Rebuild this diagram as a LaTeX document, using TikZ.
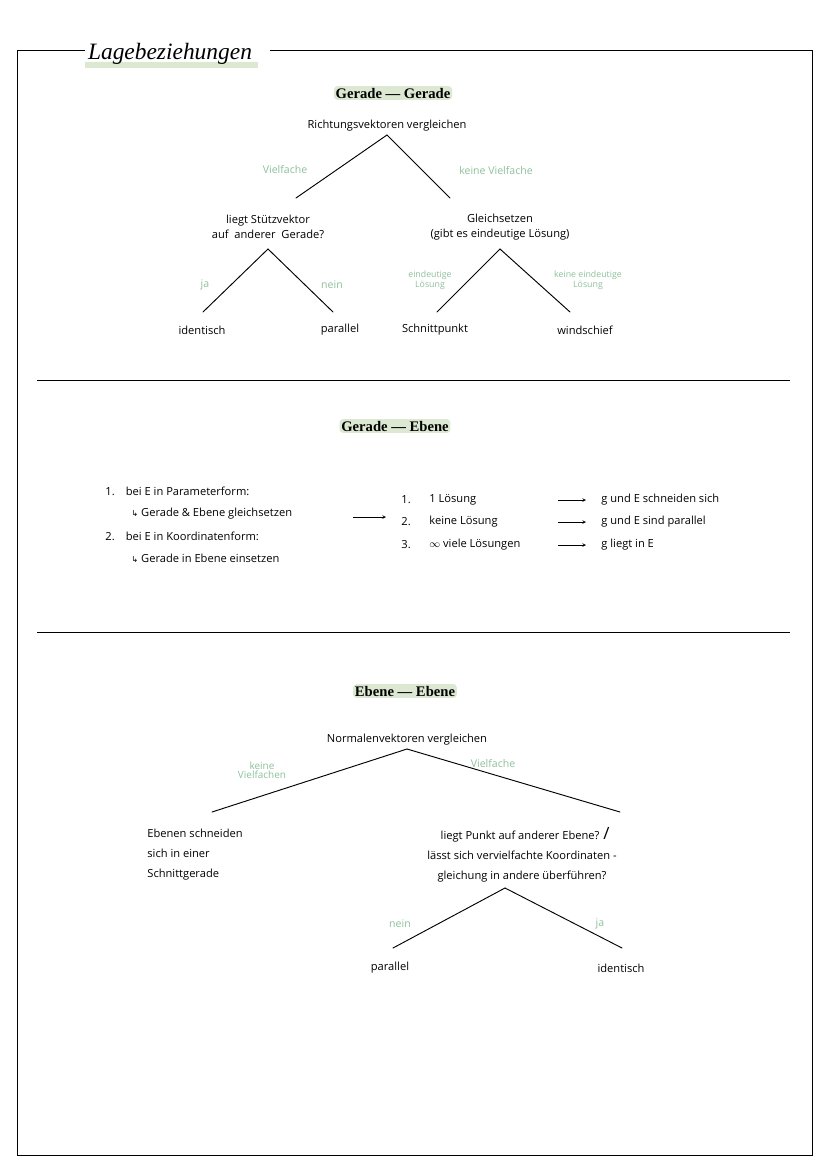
\documentclass[tikz,border=0pt]{standalone}
\usepackage{fontspec}
\setmainfont{Liberation Serif}
\setsansfont{Open Sans}
\newfontfamily\symfont{DejaVu Sans}
\usetikzlibrary{positioning}
\definecolor{leaf}{HTML}{8DBF9A}
\definecolor{marker}{HTML}{DCE8D2}
\newcommand{\hook}{{\symfont\fontsize{7}{7}\selectfont ↳}}
\tikzset{
  txt/.style={font=\sffamily\fontsize{9.5}{11}\selectfont, inner sep=1pt, align=center},
  lbl/.style={font=\sffamily\fontsize{9}{9}\selectfont, text=leaf, inner sep=1pt, align=center},
  small lbl/.style={lbl, font=\sffamily\fontsize{7.5}{7}\selectfont},
  heading/.style={font=\bfseries\fontsize{12.5}{13}\selectfont, fill=marker, rounded corners=3pt, inner sep=1.5pt},
  branch/.style={thick, line cap=round},
  arrow/.style={->, >=stealth}
}
\begin{document}
\begin{tikzpicture}[x=0.03cm, y=-0.03cm]
\useasboundingbox (0,0) rectangle (828,1171);
% frame
\draw[thick] (85,50) -- (17,50) -- (17,1155) -- (812,1155) -- (812,50) -- (270,50);
\fill[marker] (85,62) rectangle (258,68);
\node (title) at (170,54) {\itshape\fontsize{20}{20}\selectfont Lagebeziehungen};
% Gerade - Gerade
\node[heading] (gg) at (393,93) {Gerade --- Gerade};
\node[txt] (rv) at (387,126) {Richtungsvektoren vergleichen};
\coordinate (rvb) at (387,135);
\draw[branch] (rvb) -- (296,198) coordinate (svt);
\draw[branch] (rvb) -- (450,198) coordinate (gst);
\node[lbl] (vf) at (285,170) {Vielfache};
\node[lbl] (kvf) at (496,171) {keine Vielfache};
\node[txt] (stuetz) at (268,227) {liegt Stützvektor\\[2pt]auf \ anderer \ Gerade?};
\node[txt] (gleich) at (500,227) {Gleichsetzen\\[2pt](gibt es eindeutige Lösung)};
\draw[branch] (268,249) coordinate (stb) -- (203,312) coordinate (idt);
\draw[branch] (stb) -- (333,312) coordinate (part);
\draw[branch] (500,249) coordinate (glb) -- (437,312) coordinate (spt);
\draw[branch] (glb) -- (570,312) coordinate (wst);
\node[lbl] (ja1) at (205,285) {ja};
\node[lbl] (nein1) at (332,285) {nein};
\node[small lbl] (edl) at (430,280) {eindeutige\\Lösung};
\node[small lbl] (kedl) at (588,280) {keine eindeutige\\Lösung};
\node[txt] (ident1) at (202,330) {identisch};
\node[txt] (par1) at (340,330) {parallel};
\node[txt] (schnitt) at (435,330) {Schnittpunkt};
\node[txt] (wind) at (585,330) {windschief};
\draw[thick] (37,380) -- (790,380);
% Gerade - Ebene
\node[heading] (ge) at (395,426) {Gerade --- Ebene};
\node[txt, anchor=west] (n1) at (104,491) {1.\quad bei E in Parameterform:};
\node[txt, anchor=west] (n1a) at (130,514) {\hook\ Gerade \& Ebene gleichsetzen};
\node[txt, anchor=west] (n2) at (104,536) {2.\quad bei E in Koordinatenform:};
\node[txt, anchor=west] (n2a) at (130,558) {\hook\ Gerade in Ebene einsetzen};
\draw[arrow] (353,517) coordinate (a0) -- (386,517) coordinate (a1);
\foreach \y/\i/\fall/\res in {500/1/1 Lösung/g und E schneiden sich,
                             522/2/keine Lösung/g und E sind parallel,
                             545/3/$\infty$ viele Lösungen/g liegt in E}{
  \node[txt, anchor=west] (num\i) at (400,\y) {\i.};
  \node[txt, anchor=west] (fall\i) at (428,\y) {\fall};
  \draw[arrow] (558,\y) -- (586,\y);
  \node[txt, anchor=west] (res\i) at (600,\y) {\res};
}
\draw[thick] (37,632) -- (790,632);
% Ebene - Ebene
\node[heading] (ee) at (405,691) {Ebene --- Ebene};
\node[txt] (nv) at (407,740) {Normalenvektoren vergleichen};
\draw[branch] (407,749) coordinate (nvb) -- (212,812) coordinate (snt);
\draw[branch] (nvb) -- (620,812) coordinate (lpt);
\node[small lbl, font=\sffamily\fontsize{8.5}{8}\selectfont] (kvf2) at (262,770) {keine\\Vielfachen};
\node[lbl] (vf2) at (493,764) {Vielfache};
\node[txt, align=left, anchor=west] (schnittg) at (146,855) {Ebenen schneiden\\[6pt]sich in einer\\[6pt]Schnittgerade};
\node[txt] (punkt) at (522,855) {liegt Punkt auf anderer Ebene? \rlap{\Large /}\\[6pt]lässt sich vervielfachte Koordinaten -\\[6pt]gleichung in andere überführen?};
\draw[branch] (505,888) coordinate (pb) -- (393,948) coordinate (part2);
\draw[branch] (pb) -- (622,948) coordinate (idt2);
\node[lbl] (nein2) at (400,924) {nein};
\node[lbl] (ja2) at (600,924) {ja};
\node[txt] (par2) at (390,968) {parallel};
\node[txt] (ident2) at (621,968) {identisch};
\end{tikzpicture}
\end{document}
